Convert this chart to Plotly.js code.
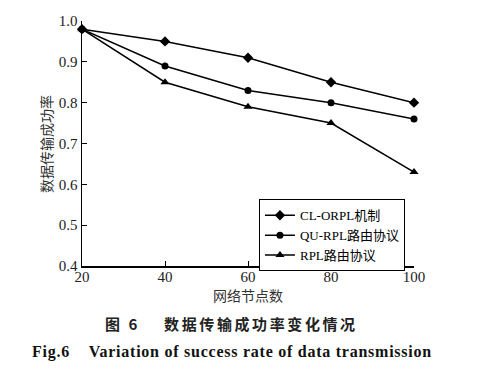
<!DOCTYPE html>
<html><head><meta charset="utf-8">
<script src="https://cdn.plot.ly/plotly-3.0.1.min.js"></script>
<style>html,body{margin:0;padding:0;background:#fff}#chart{width:479px;height:375px}</style>
</head><body><div id="chart"></div>
<script>
const nodes = [20, 40, 60, 80, 100];
const clOrpl = [0.98, 0.95, 0.91, 0.85, 0.80];
const quRpl = [0.98, 0.89, 0.83, 0.80, 0.76];
const rpl = [0.98, 0.85, 0.79, 0.75, 0.63];
const seriesNames = ['CL-ORPL机制', 'QU-RPL路由协议', 'RPL路由协议'];
const yTicks = [0.4, 0.5, 0.6, 0.7, 0.8, 0.9, 1.0];
const yTickText = ['0.4', '0.5', '0.6', '0.7', '0.8', '0.9', '1.0'];

const serif = 'Liberation Serif, Times New Roman, serif';
const cjk = 'Liberation Serif, Noto Sans CJK SC, serif';
const line = {color: '#000', width: 1.5};
function tr(y, name, sym, size) {
  return {x: nodes, y: y, name: name, type: 'scatter', mode: 'lines+markers',
    line: line, marker: {symbol: sym, size: size, color: '#000'}, cliponaxis: false};
}
const data = [
  tr(clOrpl, seriesNames[0], 'diamond', 8),
  tr(quRpl, seriesNames[1], 'circle', 7),
  tr(rpl, seriesNames[2], 'triangle-up', 8)
];
const layout = {
  width: 479, height: 375,
  margin: {l: 82, r: 65, t: 21, b: 109},
  paper_bgcolor: '#fff', plot_bgcolor: '#fff',
  showlegend: true,
  xaxis: {range: [20, 100], tickvals: nodes, ticks: 'inside', ticklen: 5, tickcolor: '#000',
    showline: true, linecolor: '#000', linewidth: 1.5, showgrid: false, zeroline: false,
    ticklabelstandoff: -4,
    tickfont: {family: serif, size: 15, color: '#222'}},
  yaxis: {range: [0.4, 1.0], tickvals: yTicks, ticktext: yTickText, ticks: 'inside', ticklen: 5, tickcolor: '#000',
    showline: true, linecolor: '#000', linewidth: 1.5, showgrid: false, zeroline: false,
    tickfont: {family: serif, size: 15, color: '#222'}},
  legend: {x: 0.533, y: 0.272, xanchor: 'left', yanchor: 'top', bordercolor: '#000', borderwidth: 1,
    bgcolor: '#fff', font: {family: cjk, size: 13, color: '#000'}, tracegroupgap: 0,
    itemwidth: 30},
  annotations: [
    {text: '网络节点数', xref: 'paper', yref: 'paper', x: 0.5, y: -0.118, showarrow: false,
      font: {family: 'Noto Sans CJK SC', size: 14, color: '#333'}, yanchor: 'middle'},
    {text: '数据传输成功率', xref: 'paper', yref: 'paper', x: -0.11, y: 0.5, textangle: -90, showarrow: false,
      font: {family: 'Noto Sans CJK SC', size: 14, color: '#333'}, xanchor: 'center', yanchor: 'middle'},
    {text: '<b><span style="letter-spacing:2.6px">图 6    数据传输成功率变化情况</span></b>', xref: 'paper', yref: 'paper', x: 0.449, y: -0.233, showarrow: false,
      font: {family: 'Noto Sans CJK SC', size: 15, color: '#222'}, yanchor: 'middle', xanchor: 'center'},
    {text: '<b><span style="letter-spacing:0.75px">Fig.6    Variation of success rate of data transmission</span></b>', xref: 'paper', yref: 'paper', x: 0.452, y: -0.351, showarrow: false,
      font: {family: serif, size: 16, color: '#111'}, yanchor: 'middle', xanchor: 'center'}
  ]
};
Plotly.newPlot('chart', data, layout, {displayModeBar: false, staticPlot: true});
</script></body></html>
